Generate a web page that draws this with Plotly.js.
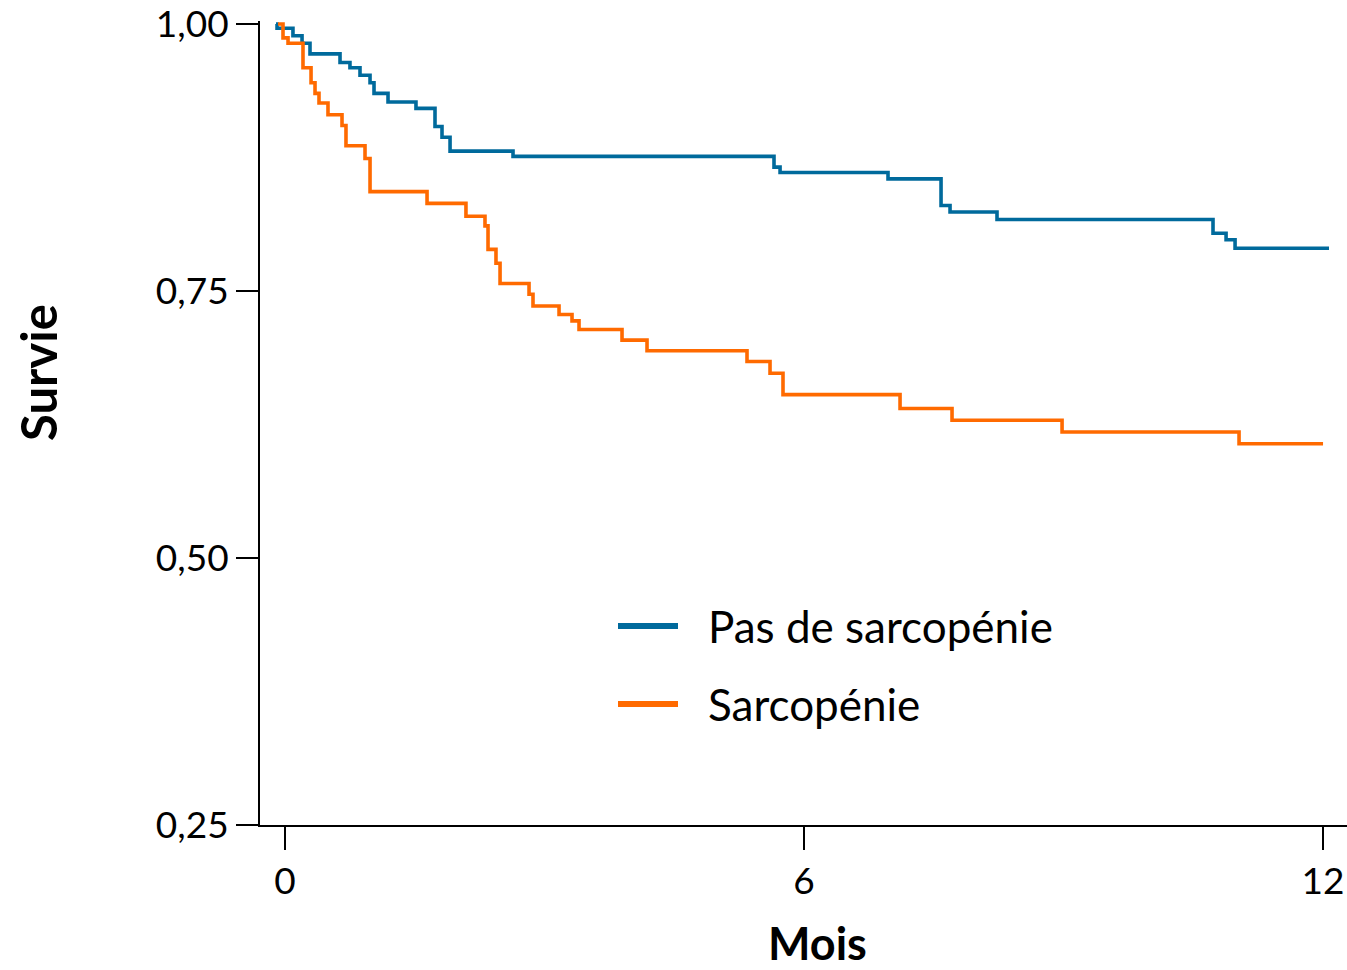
<!DOCTYPE html>
<html>
<head>
<meta charset="utf-8">
<script src="https://cdn.plot.ly/plotly-3.0.1.min.js"></script>
<style>html,body{margin:0;padding:0;background:#fff;}#chart{width:1347px;height:970px;}</style>
</head>
<body>
<div id="chart"></div>
<script>
// Kaplan-Meier steps (months, survival)
const noSarcoT = [-0.104, -0.092, 0.092, 0.197, 0.289, 0.636, 0.751, 0.867, 0.983, 1.029, 1.191, 1.514, 1.734, 1.815, 1.908, 2.636, 5.653, 5.723, 6.971, 7.584, 7.688, 8.231, 10.728, 10.879, 10.983, 12.069];
const noSarcoS = [1.000, 0.996, 0.989, 0.982, 0.972, 0.964, 0.959, 0.952, 0.945, 0.935, 0.927, 0.921, 0.904, 0.894, 0.881, 0.876, 0.866, 0.861, 0.855, 0.830, 0.824, 0.817, 0.804, 0.798, 0.790, 0.790];

const sarcoT = [-0.081, -0.023, 0.035, 0.208, 0.301, 0.347, 0.393, 0.497, 0.659, 0.705, 0.925, 0.983, 1.642, 2.092, 2.312, 2.347, 2.439, 2.486, 2.821, 2.867, 3.168, 3.318, 3.399, 3.896, 4.185, 5.341, 5.607, 5.757, 7.110, 7.711, 8.983, 11.029, 12.000];
const sarcoS = [1.000, 0.987, 0.982, 0.959, 0.945, 0.935, 0.926, 0.915, 0.905, 0.886, 0.874, 0.843, 0.832, 0.820, 0.811, 0.789, 0.776, 0.757, 0.747, 0.736, 0.728, 0.722, 0.714, 0.704, 0.694, 0.684, 0.673, 0.653, 0.640, 0.629, 0.618, 0.607, 0.607];

const seriesNames = ["Pas de sarcopénie", "Sarcopénie"];
const seriesColors = ["#006a9c", "#ff6a00"];
const xTicks = [0, 6, 12];
const yTicks = [0.25, 0.50, 0.75, 1.00];
const yTickText = ["0,25", "0,50", "0,75", "1,00"];

const FONT = "Lato, 'Open Sans', sans-serif";

const traces = [
  {x: noSarcoT, y: noSarcoS, name: seriesNames[0], mode: "lines", line: {shape: "hv", color: seriesColors[0], width: 3.6}, showlegend: false, hoverinfo: "skip"},
  {x: sarcoT, y: sarcoS, name: seriesNames[1], mode: "lines", line: {shape: "hv", color: seriesColors[1], width: 3.6}, showlegend: false, hoverinfo: "skip"}
];

const layout = {
  width: 1347, height: 970,
  margin: {l: 260, r: 0, t: 21, b: 145},
  paper_bgcolor: "#fff", plot_bgcolor: "#fff",
  separators: ",.",
  font: {family: FONT, color: "#000"},
  xaxis: {
    range: [-0.289, 12.277], tickvals: xTicks, ticktext: xTicks.map(String),
    showgrid: false, zeroline: false, showline: true, linecolor: "#000", linewidth: 2,
    ticks: "outside", ticklen: 23, tickwidth: 2, tickcolor: "#000",
    tickfont: {size: 37, family: FONT}, ticklabeloverflow: "allow"
  },
  yaxis: {
    range: [0.25, 1.0028], tickvals: yTicks, ticktext: yTickText,
    showgrid: false, zeroline: false, showline: true, linecolor: "#000", linewidth: 2,
    ticks: "outside", ticklen: 22, tickwidth: 2, tickcolor: "#000",
    tickfont: {size: 37, family: FONT}, ticklabeloverflow: "allow"
  },
  shapes: [
    {type: "line", xref: "paper", yref: "paper", x0: (618-260)/1087, x1: (678-260)/1087, y0: (825-626)/804, y1: (825-626)/804, line: {color: seriesColors[0], width: 6}},
    {type: "line", xref: "paper", yref: "paper", x0: (618-260)/1087, x1: (678-260)/1087, y0: (825-704)/804, y1: (825-704)/804, line: {color: seriesColors[1], width: 6}}
  ],
  annotations: [
    {text: seriesNames[0], xref: "paper", yref: "paper", x: (706-260)/1087, y: (825-626)/804, xanchor: "left", yanchor: "middle", showarrow: false, font: {size: 44, family: FONT}},
    {text: seriesNames[1], xref: "paper", yref: "paper", x: (706-260)/1087, y: (825-704)/804, xanchor: "left", yanchor: "middle", showarrow: false, font: {size: 44, family: FONT}},
    {text: "<b>Survie</b>", xref: "paper", yref: "paper", x: (38-260)/1087, y: (825-373)/804, xanchor: "center", yanchor: "middle", textangle: -90, showarrow: false, font: {size: 49, family: FONT}},
    {text: "<b>Mois</b>", xref: "paper", yref: "paper", x: (818-260)/1087, y: (825-943)/804, xanchor: "center", yanchor: "middle", showarrow: false, font: {size: 45, family: FONT}}
  ]
};

Plotly.newPlot("chart", traces, layout, {staticPlot: true, displayModeBar: false});
</script>
</body>
</html>
